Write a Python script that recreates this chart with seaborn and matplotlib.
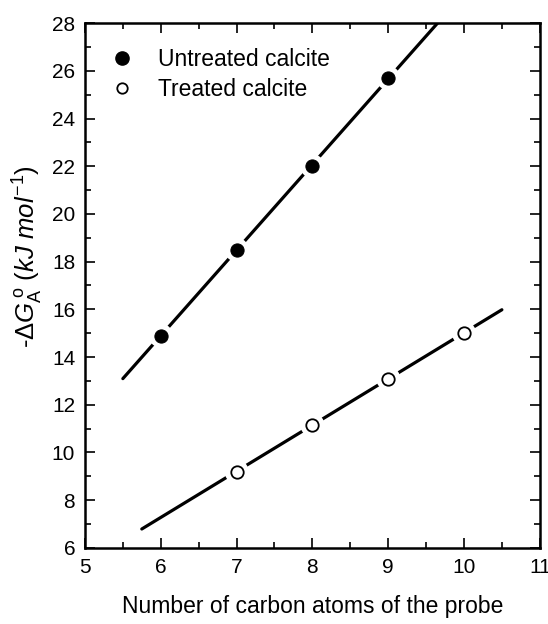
import numpy as np
import pandas as pd
import matplotlib
matplotlib.use("Agg")
import matplotlib.pyplot as plt
from matplotlib.ticker import MultipleLocator
from matplotlib.lines import Line2D
import seaborn as sns

# ---- data ----
carbon_untreated = [6, 7, 8, 9]
dg_untreated = [14.9, 18.5, 22.0, 25.7]
carbon_treated = [7, 8, 9, 10]
dg_treated = [9.2, 11.15, 13.1, 15.0]
fit_range_untreated = [5.5, 9.8]
fit_range_treated = [5.75, 10.5]
series_labels = ["Untreated calcite", "Treated calcite"]
x_ticks = [5, 6, 7, 8, 9, 10, 11]
y_ticks = [6, 8, 10, 12, 14, 16, 18, 20, 22, 24, 26, 28]

sns.set_theme(style="ticks")
plt.rcParams['font.family'] = ['Liberation Sans', 'DejaVu Sans']
plt.rcParams['mathtext.fontset'] = 'custom'
plt.rcParams['mathtext.rm'] = 'Liberation Sans'
plt.rcParams['mathtext.it'] = 'Liberation Sans:italic'
plt.rcParams['mathtext.bf'] = 'Liberation Sans:bold'
for k in ('text.color', 'axes.labelcolor', 'xtick.color', 'ytick.color',
          'xtick.labelcolor', 'ytick.labelcolor', 'axes.edgecolor'):
    plt.rcParams[k] = 'black'

fig = plt.figure(figsize=(5.48, 6.24), dpi=100)
ax = fig.add_axes([0.155, 0.122, 0.83, 0.841])

def fit_line(xs, ys, xr):
    p = np.polyfit(xs, ys, 1)
    xx = np.array(xr, dtype=float)
    return pd.DataFrame({"x": xx, "y": np.polyval(p, xx)})

fu = fit_line(carbon_untreated, dg_untreated, fit_range_untreated)
ft = fit_line(carbon_treated, dg_treated, fit_range_treated)
sns.lineplot(data=fu, x="x", y="y", ax=ax, color="black", lw=2.3, zorder=2)
sns.lineplot(data=ft, x="x", y="y", ax=ax, color="black", lw=2.3, zorder=2)

du = pd.DataFrame({"x": carbon_untreated, "y": dg_untreated})
dt = pd.DataFrame({"x": carbon_treated, "y": dg_treated})
for d in (du, dt):
    sns.scatterplot(data=d, x="x", y="y", ax=ax, s=300, color="white",
                    edgecolor="none", zorder=3)
sns.scatterplot(data=du, x="x", y="y", ax=ax, s=90, color="black",
                edgecolor="black", zorder=4)
sns.scatterplot(data=dt, x="x", y="y", ax=ax, s=80, facecolor="white",
                edgecolor="black", linewidth=1.3, zorder=4)

ax.set_xlim(5, 11)
ax.set_ylim(6, 28)
ax.set_xticks(x_ticks)
ax.set_yticks(y_ticks)
ax.xaxis.set_minor_locator(MultipleLocator(0.5))
ax.yaxis.set_minor_locator(MultipleLocator(1))
ax.tick_params(which="both", direction="in", top=True, right=True,
               color="black", labelcolor="black", width=1.2)
ax.tick_params(which="major", length=7, labelsize=15, pad=7)
ax.tick_params(which="minor", length=4)
for s in ax.spines.values():
    s.set_linewidth(1.8)
    s.set_color("black")
    s.set_visible(True)

ax.set_xlabel("Number of carbon atoms of the probe", fontsize=16.5,
              labelpad=13, color="black")
ax.set_ylabel(r"-$\Delta G_{\mathrm{A}}^{\,\mathrm{o}}$ ($kJ$ $mol^{-1}$)",
              fontsize=18.5, color="black")
ax.yaxis.set_label_coords(-0.088, 0.555)

handles = [
    Line2D([], [], marker="o", ls="none", color="black", markersize=9.5),
    Line2D([], [], marker="o", ls="none", markerfacecolor="white",
           markeredgecolor="black", markeredgewidth=1.3, markersize=7.5),
]
leg = ax.legend(handles, series_labels, loc="upper left", frameon=False,
                fontsize=16.5, handletextpad=1.0, labelspacing=0.3,
                bbox_to_anchor=(0.03, 0.97), borderaxespad=0.0, handlelength=1.2)
for t in leg.get_texts():
    t.set_color("black")

fig.savefig("out.png", dpi=100)
